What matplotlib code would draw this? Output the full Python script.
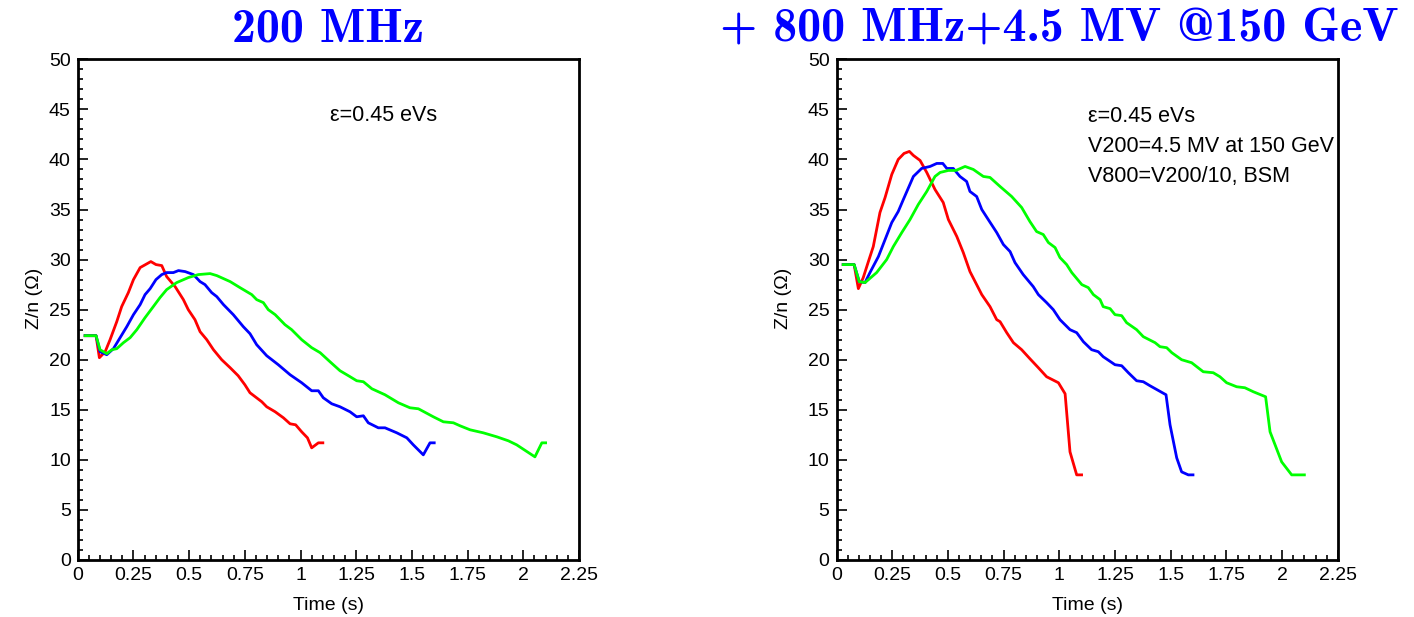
import os

import matplotlib
matplotlib.use("Agg")
import matplotlib.pyplot as plt
from matplotlib.font_manager import FontProperties
from matplotlib.ticker import MultipleLocator, FuncFormatter


# -------------------------
# data: 200 MHz only (left)
# -------------------------

left_red_t = [0.033, 0.082, 0.097, 0.123, 0.145, 0.175, 0.197, 0.227, 0.25, 0.28,
              0.328, 0.351, 0.377, 0.399, 0.437, 0.474, 0.496, 0.526, 0.549, 0.579,
              0.609, 0.646, 0.684, 0.72, 0.75, 0.773, 0.826, 0.848, 0.886, 0.923,
              0.953, 0.978, 1.005, 1.031, 1.05, 1.08, 1.1]
left_red_z = [22.4, 22.4, 20.2, 20.8, 22.0, 23.8, 25.3, 26.7, 28.0, 29.2,
              29.8, 29.5, 29.4, 28.3, 27.3, 26.0, 25.0, 24.0, 22.8, 22.0,
              21.0, 20.0, 19.2, 18.4, 17.5, 16.7, 15.8, 15.3, 14.8, 14.2,
              13.6, 13.5, 12.8, 12.2, 11.2, 11.7, 11.7]

left_blue_t = [0.033, 0.082, 0.10, 0.13, 0.16, 0.19, 0.22, 0.25, 0.28, 0.302,
               0.325, 0.351, 0.377, 0.399, 0.429, 0.452, 0.482, 0.519, 0.549, 0.571,
               0.601, 0.624, 0.654, 0.698, 0.743, 0.773, 0.803, 0.848, 0.9, 0.953,
               1.005, 1.05, 1.08, 1.102, 1.14, 1.177, 1.222, 1.252, 1.282, 1.304,
               1.349, 1.379, 1.432, 1.477, 1.506, 1.551, 1.581, 1.6]
left_blue_z = [22.4, 22.4, 20.8, 20.5, 21.1, 22.2, 23.3, 24.5, 25.5, 26.5,
               27.1, 28.0, 28.5, 28.7, 28.7, 28.9, 28.8, 28.5, 27.8, 27.5,
               26.7, 26.3, 25.5, 24.5, 23.3, 22.6, 21.5, 20.4, 19.5, 18.5,
               17.7, 16.9, 16.9, 16.2, 15.6, 15.3, 14.8, 14.3, 14.4, 13.7,
               13.2, 13.2, 12.7, 12.2, 11.5, 10.5, 11.7, 11.7]

left_green_t = [0.033, 0.082, 0.10, 0.13, 0.153, 0.175, 0.205, 0.235, 0.265, 0.302,
                0.339, 0.369, 0.399, 0.444, 0.496, 0.541, 0.594, 0.624, 0.654, 0.684,
                0.728, 0.781, 0.803, 0.833, 0.855, 0.886, 0.93, 0.96, 1.005, 1.05,
                1.088, 1.132, 1.177, 1.215, 1.252, 1.282, 1.32, 1.379, 1.439, 1.491,
                1.529, 1.596, 1.641, 1.686, 1.716, 1.761, 1.82, 1.881, 1.933, 1.97,
                2.052, 2.083, 2.1]
left_green_z = [22.4, 22.4, 21.0, 20.6, 21.0, 21.1, 21.7, 22.2, 23.0, 24.2,
                25.3, 26.2, 27.0, 27.7, 28.2, 28.5, 28.6, 28.4, 28.1, 27.8,
                27.2, 26.5, 26.0, 25.7, 25.0, 24.5, 23.5, 23.0, 22.0, 21.2,
                20.7, 19.8, 18.9, 18.4, 17.9, 17.8, 17.1, 16.5, 15.7, 15.2,
                15.1, 14.3, 13.8, 13.7, 13.4, 13.0, 12.7, 12.3, 11.9, 11.5,
                10.3, 11.7, 11.7]

# -------------------------
# data: 200 + 800 MHz (right)
# -------------------------

right_red_t = [0.03, 0.079, 0.098, 0.12, 0.143, 0.165, 0.195, 0.218, 0.248, 0.277,
               0.303, 0.327, 0.345, 0.375, 0.405, 0.442, 0.479, 0.502, 0.54, 0.569,
               0.599, 0.652, 0.689, 0.719, 0.734, 0.764, 0.794, 0.831, 0.868, 0.906,
               0.943, 0.996, 1.026, 1.048, 1.078, 1.1]
right_red_z = [29.5, 29.5, 27.1, 28.2, 29.8, 31.3, 34.7, 36.2, 38.5, 40.0,
               40.6, 40.8, 40.4, 39.9, 38.7, 37.0, 35.7, 34.0, 32.3, 30.7,
               28.8, 26.5, 25.3, 24.0, 23.8, 22.7, 21.7, 21.0, 20.1, 19.2,
               18.3, 17.7, 16.6, 10.8, 8.5, 8.5]

right_blue_t = [0.03, 0.079, 0.102, 0.128, 0.15, 0.188, 0.218, 0.248, 0.277, 0.3,
                0.345, 0.382, 0.42, 0.45, 0.477, 0.495, 0.524, 0.554, 0.584, 0.599,
                0.629, 0.652, 0.681, 0.719, 0.749, 0.779, 0.801, 0.838, 0.883, 0.906,
                0.943, 0.973, 1.003, 1.048, 1.078, 1.108, 1.145, 1.175, 1.197, 1.25,
                1.28, 1.31, 1.347, 1.377, 1.407, 1.479, 1.497, 1.527, 1.549, 1.579,
                1.6]
right_blue_z = [29.5, 29.5, 27.8, 27.7, 28.7, 30.3, 32.0, 33.7, 34.8, 36.0,
                38.3, 39.1, 39.3, 39.6, 39.6, 39.1, 39.1, 38.3, 37.8, 36.8,
                36.3, 35.0, 34.0, 32.7, 31.5, 30.8, 29.7, 28.5, 27.3, 26.5,
                25.7, 25.0, 24.0, 23.0, 22.7, 21.8, 21.0, 20.8, 20.3, 19.5,
                19.4, 18.7, 17.9, 17.8, 17.4, 16.5, 13.5, 10.2, 8.8, 8.5,
                8.5]

right_green_t = [0.03, 0.079, 0.102, 0.128, 0.18, 0.225, 0.255, 0.293, 0.33, 0.367,
                 0.405, 0.442, 0.465, 0.502, 0.536, 0.577, 0.614, 0.659, 0.689, 0.734,
                 0.786, 0.831, 0.868, 0.898, 0.928, 0.951, 0.981, 1.003, 1.033, 1.056,
                 1.101, 1.13, 1.153, 1.183, 1.197, 1.228, 1.25, 1.28, 1.302, 1.347,
                 1.377, 1.43, 1.452, 1.482, 1.505, 1.549, 1.594, 1.646, 1.691, 1.721,
                 1.751, 1.796, 1.833, 1.871, 1.926, 1.946, 1.998, 2.043, 2.1]
right_green_z = [29.5, 29.5, 27.8, 27.7, 28.7, 30.0, 31.3, 32.7, 34.0, 35.5,
                 36.8, 38.3, 38.7, 38.9, 38.9, 39.3, 39.0, 38.3, 38.2, 37.3,
                 36.3, 35.2, 33.8, 32.8, 32.5, 31.7, 31.2, 30.2, 29.5, 28.7,
                 27.5, 27.2, 26.5, 26.0, 25.3, 25.1, 24.5, 24.4, 23.7, 23.0,
                 22.3, 21.7, 21.3, 21.2, 20.7, 20.0, 19.7, 18.8, 18.7, 18.3,
                 17.7, 17.3, 17.2, 16.8, 16.3, 12.8, 9.8, 8.5, 8.5]

left_note = "\u03b5=0.45 eVs"
right_note = ["\u03b5=0.45 eVs", "V200=4.5 MV at 150 GeV", "V800=V200/10, BSM"]

title_left = "200 MHz"
title_right = "+ 800 MHz+4.5 MV @150 GeV"


plt.rcParams["font.family"] = ["Liberation Sans", "DejaVu Sans"]

# computer modern bold, shipped with matplotlib
cm_bold_path = os.path.join(matplotlib.get_data_path(), "fonts", "ttf", "cmb10.ttf")
if os.path.exists(cm_bold_path):
    title_font = FontProperties(fname=cm_bold_path, size=34.5)
else:
    title_font = FontProperties(family="DejaVu Serif", weight="bold", size=28)

fig = plt.figure(figsize=(14.14, 6.17), dpi=100)

ax_left = fig.add_axes([0.055, 0.0924, 0.3545, 0.8115])
ax_right = fig.add_axes([0.5916, 0.0924, 0.3545, 0.8115])


def _fmt(v, pos):
    return ("%.2f" % v).rstrip("0").rstrip(".")


def style_axes(ax, ylabel_x):
    ax.set_xlim(0, 2.25)
    ax.set_ylim(0, 50)

    ax.xaxis.set_major_locator(MultipleLocator(0.25))
    ax.xaxis.set_minor_locator(MultipleLocator(0.05))
    ax.yaxis.set_major_locator(MultipleLocator(5))
    ax.yaxis.set_minor_locator(MultipleLocator(1))
    ax.xaxis.set_major_formatter(FuncFormatter(_fmt))

    ax.tick_params(which="both", direction="in", top=False, right=False,
                   width=1.2, labelsize=14)
    ax.tick_params(which="major", length=7)
    ax.tick_params(which="minor", length=3.5)
    ax.tick_params(axis="x", pad=5)
    ax.tick_params(axis="y", pad=5)

    for spine in ax.spines.values():
        spine.set_linewidth(2.0)

    ax.set_xlabel("Time (s)", fontsize=14)
    ax.set_ylabel("Z/n (\u03a9)", fontsize=14)
    ax.xaxis.set_label_coords(0.5, -0.09)
    ax.xaxis.label.set_va("center")
    ax.yaxis.set_label_coords(ylabel_x, 0.523)
    ax.yaxis.label.set_va("center")


# -------------------------
# left panel
# -------------------------

lw = 2.0
ax_left.plot(left_red_t, left_red_z, color="#ff0000", lw=lw)
ax_left.plot(left_blue_t, left_blue_z, color="#0000ff", lw=lw)
ax_left.plot(left_green_t, left_green_z, color="#00ff00", lw=lw)
style_axes(ax_left, -0.087)

ax_left.text(1.13, 44.4, left_note, fontsize=15.5, va="center", ha="left")

# -------------------------
# right panel
# -------------------------

ax_right.plot(right_red_t, right_red_z, color="#ff0000", lw=lw)
ax_right.plot(right_blue_t, right_blue_z, color="#0000ff", lw=lw)
ax_right.plot(right_green_t, right_green_z, color="#00ff00", lw=lw)
style_axes(ax_right, -0.105)

for i, line in enumerate(right_note):
    ax_right.text(1.13, 44.3 - 3.0 * i, line, fontsize=15.5, va="center", ha="left")

# -------------------------
# titles
# -------------------------

fig.text(0.232, 0.952, title_left, fontproperties=title_font, color="#0000ff",
         ha="center", va="center")
fig.text(0.749, 0.952, title_right, fontproperties=title_font, color="#0000ff",
         ha="center", va="center")

fig.savefig("out.png", dpi=100)
